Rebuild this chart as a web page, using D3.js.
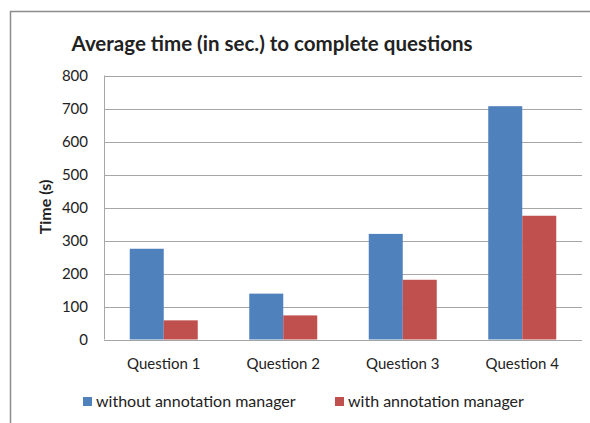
<!DOCTYPE html>
<html>
<head>
<meta charset="utf-8" />
<script src="https://d3js.org/d3.v7.min.js"></script>
<style>
  body { margin: 0; background: #fff; }
  text { font-family: "Lato", "Open Sans", sans-serif; fill: #222; }
</style>
</head>
<body>
<svg id="chart" width="590" height="423"></svg>
<script>
var categories = ["Question 1", "Question 2", "Question 3", "Question 4"];
var seriesNames = ["without annotation manager", "with annotation manager"];
var withoutManager = [275, 139, 320, 707];
var withManager = [58, 73, 181, 375];
var yTicks = [0, 100, 200, 300, 400, 500, 600, 700, 800];
var colors = ["#4f81bd", "#c0504d"];

var svg = d3.select("#chart");

// outer frame (only top + left are visible)
svg.append("path")
    .attr("d", "M10.5,423 L10.5,11.5 L590,11.5")
    .attr("fill", "none")
    .attr("stroke", "#8c8c8c")
    .attr("stroke-width", 1.5);

var plotLeft = 104, plotRight = 582, plotTop = 75.5, plotBottom = 339.5;

var x = d3.scaleBand().domain(categories).range([plotLeft, plotRight]);
var y = d3.scaleLinear().domain([0, 800]).range([plotBottom, plotTop]);
var barW = 34;

// gridlines
svg.append("g").selectAll("line")
    .data(yTicks)
    .enter().append("line")
    .attr("x1", plotLeft).attr("x2", plotRight)
    .attr("y1", function(d) { return Math.round(y(d)) + 0.5; })
    .attr("y2", function(d) { return Math.round(y(d)) + 0.5; })
    .attr("stroke", "#a6a6a6")
    .attr("stroke-width", 1);

svg.append("line")
    .attr("x1", plotLeft + 0.5).attr("x2", plotLeft + 0.5)
    .attr("y1", plotTop).attr("y2", plotBottom)
    .attr("stroke", "#a6a6a6");

// y tick labels
svg.append("g").selectAll("text")
    .data(yTicks)
    .enter().append("text")
    .attr("x", 88)
    .attr("y", function(d) { return y(d) + 5; })
    .attr("text-anchor", "end")
    .attr("font-size", 15)
    .text(function(d) { return d; });

// bars
var series = [withoutManager, withManager];
series.forEach(function(vals, s) {
    svg.append("g").selectAll("rect")
        .data(vals)
        .enter().append("rect")
        .attr("x", function(d, i) { return x(categories[i]) + x.bandwidth() / 2 - barW + s * barW; })
        .attr("y", function(d) { return y(d); })
        .attr("width", barW)
        .attr("height", function(d) { return plotBottom - y(d); })
        .attr("fill", colors[s]);
});

// category labels
svg.append("g").selectAll("text")
    .data(categories)
    .enter().append("text")
    .attr("x", function(d) { return x(d) + x.bandwidth() / 2; })
    .attr("y", 369)
    .attr("text-anchor", "middle")
    .attr("font-size", 15)
    .text(function(d) { return d; });

// title
svg.append("text")
    .attr("x", 272)
    .attr("y", 51)
    .attr("text-anchor", "middle")
    .attr("font-size", 20.5)
    .attr("font-weight", "bold")
    .text("Average time (in sec.) to complete questions");

// y axis title
svg.append("text")
    .attr("transform", "translate(51,207) rotate(-90)")
    .attr("text-anchor", "middle")
    .attr("font-size", 16)
    .attr("font-weight", "bold")
    .text("Time (s)");

// legend
var legendX = [83, 335];
seriesNames.forEach(function(name, s) {
    svg.append("rect")
        .attr("x", legendX[s]).attr("y", 397)
        .attr("width", 9).attr("height", 9)
        .attr("fill", colors[s]);
    svg.append("text")
        .attr("x", legendX[s] + 13)
        .attr("y", 407)
        .attr("font-size", 16)
        .text(name);
});
</script>
</body>
</html>
